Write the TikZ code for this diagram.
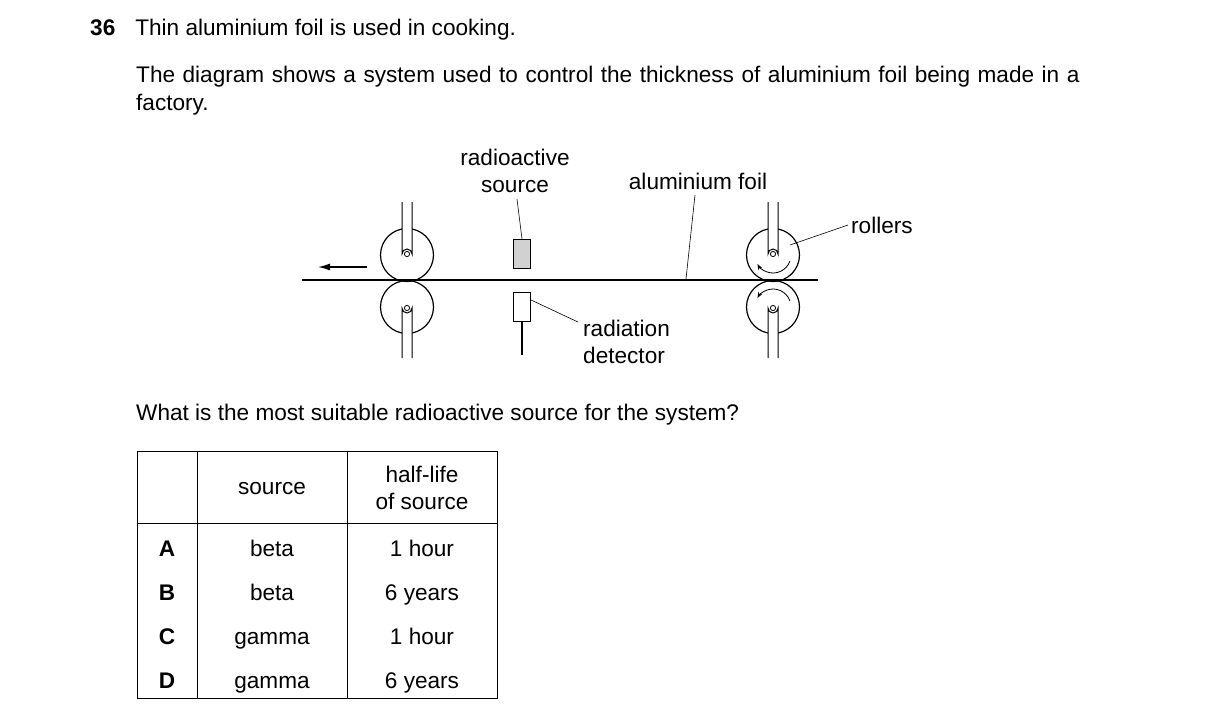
\documentclass[tikz,border=0pt]{standalone}
\usepackage{fontspec}
\setmainfont{Liberation Sans}
\usetikzlibrary{arrows.meta}
\begin{document}
\begin{tikzpicture}[x=1pt,y=-1pt,font=\fontsize{22.6}{27.5}\selectfont,
    roller/.style={circle,draw,line width=1.2pt,minimum size=53pt,inner sep=0pt},
    box/.style={draw,line width=1pt,minimum width=17pt,minimum height=29pt,inner sep=0pt},
    lead/.style={line width=0.6pt},
    txt/.style={inner sep=0pt,align=center,text depth=0pt}]
    \useasboundingbox (0,0) rectangle (1216,724);

    % question text
    \node[txt,anchor=west] (q) at (90,27) {\textbf{36}\hspace{20pt}Thin aluminium foil is used in cooking.};
    \node[txt,anchor=north west,align=left,text width=988pt] (intro) at (136,66) {\hbox to 988pt{The diagram shows a system used to control the thickness of aluminium foil being made in a}\\factory.};

    % rollers
    \begin{scope}
        \node[roller] (r1) at (407,255) {};
        \node[roller] (r2) at (407,307) {};
        \node[roller] (r3) at (773,255) {};
        \node[roller] (r4) at (773,307) {};
    \end{scope}
    \foreach \x in {407,773} {
        \draw[fill=white,line width=1pt] (\x-5,202) -- (\x-5,254) arc (180:360:5) -- (\x+5,202);
        \draw[line width=0.8pt] (\x,254) circle (2.6);
        \draw[fill=white,line width=1pt] (\x-5,358) -- (\x-5,308) arc (180:0:5) -- (\x+5,358);
        \draw[line width=0.8pt] (\x,308) circle (2.6);
    }
    % direction of rotation
    \draw[-{Stealth[length=6pt]},line width=0.8pt] (773,255) ++(20:18) arc (20:150:18);
    \draw[-{Stealth[length=6pt]},line width=0.8pt] (773,307) ++(-20:18) arc (-20:-150:18);

    % foil
    \coordinate (fL) at (302,280);
    \coordinate (fR) at (818,280);
    \draw[line width=1.6pt] (fL) -- (fR);
    \coordinate (a1) at (367,267);
    \coordinate (a2) at (318,267);
    \draw[-{Latex[length=12pt,width=7pt]},line width=1.4pt] (a1) -- (a2);

    % source and detector
    \node[box,fill=black!18] (src) at (522,254) {};
    \node[box] (det) at (522,307) {};
    \coordinate (stem) at (522,355);
    \draw[line width=1.2pt] (det.south) -- (stem);

    % labels
    \node[txt] (lsrc) at (515,171) {radioactive\\source};
    \draw[lead] (517,199) -- (src.north);
    \node[txt] (lfoil) at (698,181) {aluminium foil};
    \coordinate (pfoil) at (686,279);
    \draw[lead] (695,195) -- (pfoil);
    \node[txt,anchor=west] (lrol) at (851,225) {rollers};
    \coordinate (prol) at (790,245);
    \draw[lead] ([xshift=-3pt]lrol.west) -- (prol);
    \node[txt,anchor=west,align=left] (ldet) at (583,342) {radiation\\detector};
    \draw[lead] (det.east |- 522,300) -- (578,322);

    \node[txt,anchor=west] (ask) at (136,412) {What is the most suitable radioactive source for the system?};

    % table
    \draw[line width=0.8pt] (137,451) rectangle (497,698);
    \draw[line width=0.8pt] (197,451) -- (197,698) (347,451) -- (347,698) (137,523) -- (497,523);
    \node[txt] (hs) at (272,488) {source};
    \node[txt] (hh) at (422,488) {half-life\\of source};
    \foreach \l/\s/\h/\y in {A/beta/1 hour/551, B/beta/6 years/595, C/gamma/1 hour/639, D/gamma/6 years/683} {
        \node[txt,text height=15pt,text depth=5pt] (k\l) at (167,\y) {\textbf{\l}};
        \node[txt,text height=15pt,text depth=5pt] (s\l) at (272,\y) {\s};
        \node[txt,text height=15pt,text depth=5pt] (h\l) at (422,\y) {\h};
    }
\end{tikzpicture}
\end{document}
